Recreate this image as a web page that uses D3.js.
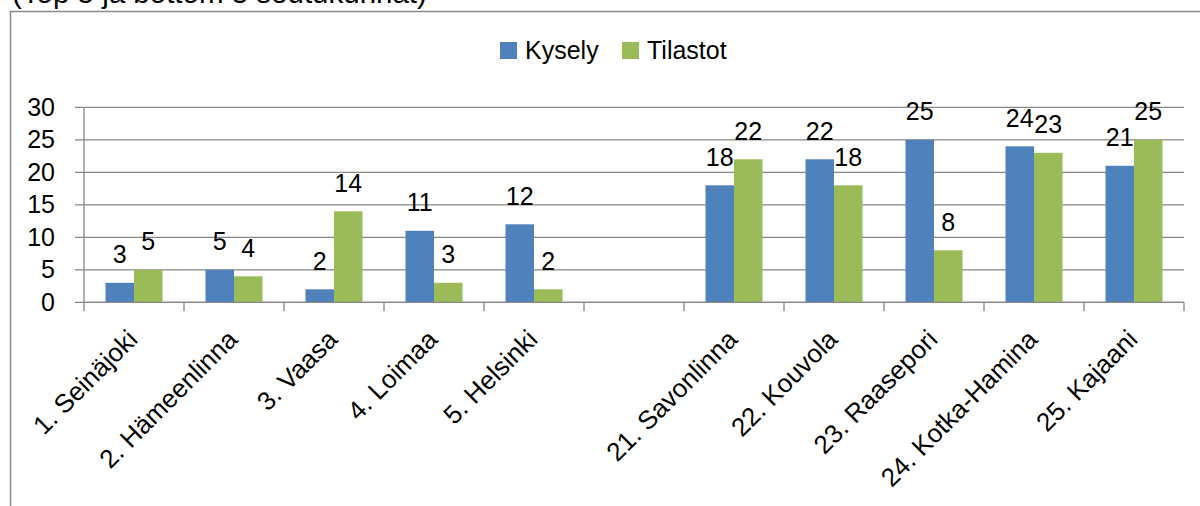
<!DOCTYPE html>
<html>
<head>
<meta charset="utf-8">
<script src="https://cdn.jsdelivr.net/npm/d3@7"></script>
<style>
  body { margin: 0; background: #fff; }
  svg { display: block; font-family: "Liberation Sans", Arial, sans-serif; }
</style>
</head>
<body>
<script>
const categories = ["1. Seinäjoki", "2. Hämeenlinna", "3. Vaasa", "4. Loimaa", "5. Helsinki", "",
  "21. Savonlinna", "22. Kouvola", "23. Raasepori", "24. Kotka-Hamina", "25. Kajaani"]
const seriesNames = ["Kysely", "Tilastot"]
const kysely = [3, 5, 2, 11, 12, null, 18, 22, 25, 24, 21]
const tilastot = [5, 4, 14, 3, 2, null, 22, 18, 8, 23, 25]
const yTicks = [0, 5, 10, 15, 20, 25, 30]
const titleText = "(Top 5 ja bottom 5 seutukunnat)"

const width = 1200
const height = 506
const margin = {left: 84, right: 16, top: 107.3, bottom: 203.7}
const colors = {Kysely: "#4f81bd", Tilastot: "#9bbb59"}
const gridColor = "#878787"

const svg = d3.select("body").append("svg")
  .attr("width", width)
  .attr("height", height)

// title, mostly cut off at the top (as in the original)
svg.append("text")
  .attr("x", 12)
  .attr("y", 3)
  .attr("font-size", 29.5)
  .attr("fill", "#000")
  .text(titleText)

// chart frame
svg.append("rect")
  .attr("x", 10.5)
  .attr("y", 11.5)
  .attr("width", 1200)
  .attr("height", 600)
  .attr("fill", "none")
  .attr("stroke", "#8a8a8a")
  .attr("stroke-width", 1.5)

const x = d3.scaleBand()
  .domain(d3.range(categories.length))
  .range([margin.left, width - margin.right])

const xInner = d3.scaleBand()
  .domain(seriesNames)
  .range([21.5, 78.5])

const y = d3.scaleLinear()
  .domain([0, 30])
  .range([height - margin.bottom, margin.top])

// gridlines + y ticks
svg.append("g")
  .selectAll("line")
  .data(yTicks)
  .join("line")
  .attr("x1", margin.left - 9)
  .attr("x2", width - margin.right)
  .attr("y1", d => y(d))
  .attr("y2", d => y(d))
  .attr("stroke", gridColor)
  .attr("stroke-width", 1.3)

const yAxis = d3.axisLeft(y).tickValues(yTicks).tickSize(0).tickPadding(29)
const yg = svg.append("g")
  .attr("transform", `translate(${margin.left},0)`)
  .call(yAxis)
yg.select(".domain").remove()
yg.selectAll("text")
  .attr("font-size", 25)
  .attr("font-family", "Liberation Sans, Arial, sans-serif")
  .attr("fill", "#000")

// y axis line
svg.append("line")
  .attr("x1", margin.left).attr("x2", margin.left)
  .attr("y1", y(30)).attr("y2", y(0))
  .attr("stroke", gridColor).attr("stroke-width", 1.3)

// bars
const rows = categories.map((c, i) => ({i, values: [kysely[i], tilastot[i]]}))
const groups = svg.append("g").selectAll("g")
  .data(rows)
  .join("g")
  .attr("transform", d => `translate(${x(d.i)},0)`)

groups.selectAll("rect")
  .data(d => seriesNames.map((s, k) => ({s, v: d.values[k]})).filter(e => e.v != null))
  .join("rect")
  .attr("x", d => xInner(d.s))
  .attr("width", xInner.bandwidth())
  .attr("y", d => y(d.v))
  .attr("height", d => y(0) - y(d.v))
  .attr("fill", d => colors[d.s])

groups.selectAll("text")
  .data(d => seriesNames.map((s, k) => ({s, v: d.values[k]})).filter(e => e.v != null))
  .join("text")
  .attr("x", d => xInner(d.s) + xInner.bandwidth() / 2)
  .attr("y", d => y(d.v) - 19.5)
  .attr("text-anchor", "middle")
  .attr("font-size", 25)
  .attr("fill", "#000")
  .text(d => d.v)

// category axis line and ticks at band edges
svg.append("line")
  .attr("x1", margin.left).attr("x2", width - margin.right)
  .attr("y1", y(0)).attr("y2", y(0))
  .attr("stroke", gridColor).attr("stroke-width", 1.3)

const edges = d3.range(categories.length + 1).map(i => i < categories.length ? x(i) : x(i - 1) + x.bandwidth())
svg.append("g").selectAll("line")
  .data(edges)
  .join("line")
  .attr("x1", d => d).attr("x2", d => d)
  .attr("y1", y(0)).attr("y2", y(0) + 9)
  .attr("stroke", gridColor).attr("stroke-width", 1.3)

// rotated category labels
svg.append("g").selectAll("text")
  .data(categories.map((c, i) => ({c, i})).filter(d => d.c !== ""))
  .join("text")
  .attr("transform", d => `translate(${x(d.i) + x.bandwidth() / 2 + 5},341) rotate(-45)`)
  .attr("text-anchor", "end")
  .attr("font-size", 26)
  .attr("fill", "#000")
  .text(d => d.c)

// legend
const legend = svg.append("g")
const legendX = [500, 622]
seriesNames.forEach((s, k) => {
  legend.append("rect")
    .attr("x", legendX[k]).attr("y", 42)
    .attr("width", 17).attr("height", 17)
    .attr("fill", colors[s])
  legend.append("text")
    .attr("x", legendX[k] + 25).attr("y", 59)
    .attr("font-size", 25)
    .attr("fill", "#000")
    .text(s)
})
</script>
</body>
</html>
